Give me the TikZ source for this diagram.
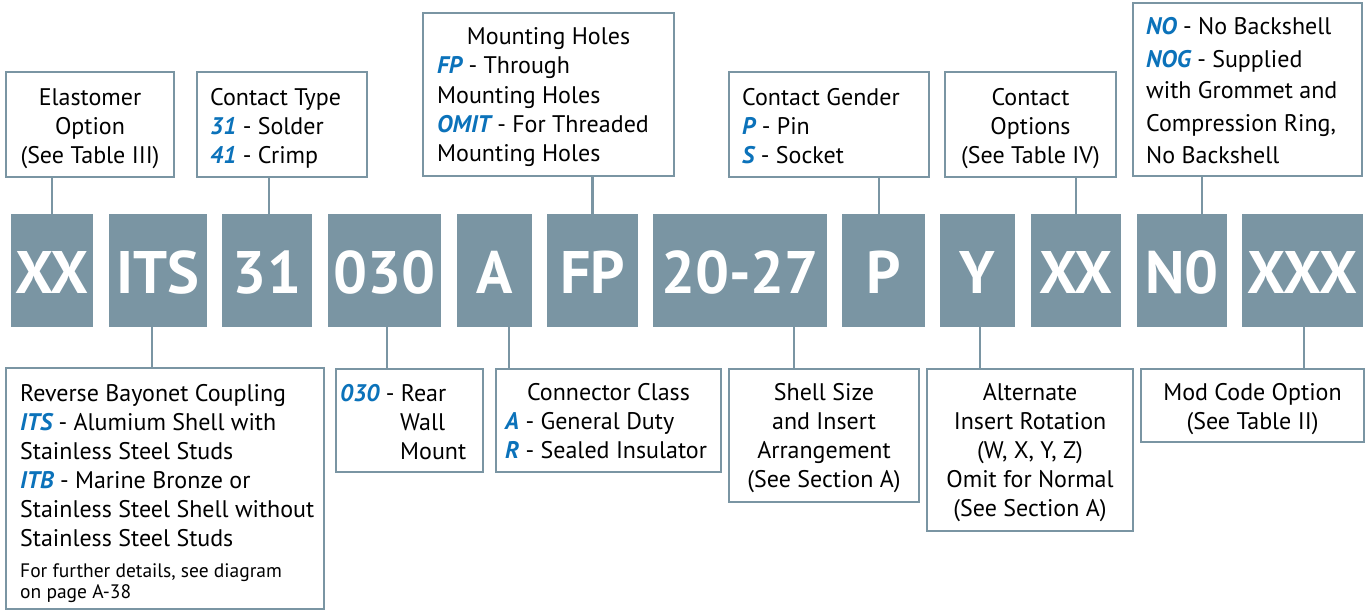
\documentclass[tikz,border=0pt]{standalone}
\usepackage{fontspec}
\setmainfont{PT Sans}
\definecolor{slate}{HTML}{7A95A3}
\definecolor{codeblue}{HTML}{0B72BA}
\newcommand\bl[1]{\textcolor{codeblue}{\bfseries\itshape #1}}
\newcommand\tlines[6]{\foreach \l [count=\i] in {#6}{\node[#2] (#1\i) at (#3,{#4+(\i-1)*#5}) {\l};}}
\begin{document}
\begin{tikzpicture}[x=1pt,y=-1pt,
 code/.style={fill=slate, draw=none, text=white, font=\fontsize{60}{60}\selectfont\bfseries, inner sep=0pt, text height=45pt, text depth=0pt, minimum height=113pt},
 lbox/.style={draw=slate, line width=2.7pt, inner sep=0pt, fill=white},
 txt/.style={inner sep=0pt, font=\fontsize{24}{29}\selectfont},
 small/.style={inner sep=0pt, font=\fontsize{19.5}{21}\selectfont},
 conn/.style={draw=slate, line width=2.7pt}]
\useasboundingbox (0,0) rectangle (1365,610);
% code boxes
\node[code, minimum width=82pt]  (c1)  at (52,270.5)    {XX};
\node[code, minimum width=98pt]  (c2)  at (158,270.5)   {ITS};
\node[code, minimum width=90pt]  (c3)  at (267,270.5)   {31};
\node[code, minimum width=113pt] (c4)  at (384.5,270.5) {030};
\node[code, minimum width=75pt]  (c5)  at (494.5,270.5) {A};
\node[code, minimum width=91pt]  (c6)  at (592.5,270.5) {FP};
\node[code, minimum width=174pt] (c7)  at (740,270.5)   {20-27};
\node[code, minimum width=83pt]  (c8)  at (883.5,270.5) {P};
\node[code, minimum width=75pt]  (c9)  at (977.5,270.5) {Y};
\node[code, minimum width=90pt]  (c10) at (1076,270.5)  {XX};
\node[code, minimum width=90pt]  (c11) at (1182,270.5)  {N0};
\node[code, minimum width=121pt] (c12) at (1302.5,270.5){XXX};
% top label boxes
\node[lbox, minimum width=168pt, minimum height=105pt] (b1) at (90,124.5) {};
\node[lbox, minimum width=170pt, minimum height=105pt] (b2) at (282,124.5) {};
\node[lbox, minimum width=251pt, minimum height=163pt] (b3) at (548.5,94.5) {};
\node[lbox, minimum width=200pt, minimum height=105pt] (b4) at (829,124.5) {};
\node[lbox, minimum width=171pt, minimum height=105pt] (b5) at (1030.5,124.5) {};
\node[lbox, minimum width=229pt, minimum height=173pt] (b6) at (1247.5,89.5) {};
% bottom label boxes
\node[lbox, minimum width=318pt, minimum height=241pt] (r1) at (165,488.5) {};
\node[lbox, minimum width=147pt, minimum height=103pt] (r2) at (409.5,420.5) {};
\node[lbox, minimum width=225pt, minimum height=103pt] (r3) at (608.5,420.5) {};
\node[lbox, minimum width=190pt, minimum height=133pt] (r4) at (824,435.5) {};
\node[lbox, minimum width=206pt, minimum height=162pt] (r5) at (1030,450) {};
\node[lbox, minimum width=223pt, minimum height=73pt]  (r6) at (1252.5,405.5) {};
% connectors
\draw[conn] (c1.north) -- (c1.north |- b1.south);
\draw[conn] ([xshift=2pt]c3.north) -- ([xshift=2pt]c3.north |- b2.south);
\draw[conn] (c6.north) -- (c6.north |- b3.south);
\draw[conn] ([xshift=-4.5pt]c8.north) -- ([xshift=-4.5pt]c8.north |- b4.south);
\draw[conn] (c10.north) -- (c10.north |- b5.south);
\draw[conn] ([xshift=20pt]c11.north) -- ([xshift=20pt]c11.north |- b6.south);
\draw[conn] ([xshift=-6pt]c2.south) -- ([xshift=-6pt]c2.south |- r1.north);
\draw[conn] ([xshift=2.5pt]c4.south) -- ([xshift=2.5pt]c4.south |- r2.north);
\draw[conn] ([xshift=14.5pt]c5.south) -- ([xshift=14.5pt]c5.south |- r3.north);
\draw[conn] ([xshift=54pt]c7.south) -- ([xshift=54pt]c7.south |- r4.north);
\draw[conn] ([xshift=2.5pt]c9.south) -- ([xshift=2.5pt]c9.south |- r5.north);
\draw[conn] ([xshift=1.5pt]c12.south) -- ([xshift=1.5pt]c12.south |- r6.north);
% texts, top
\tlines{tb1}{txt, anchor=base}{90}{105}{29}{{Elastomer},{Option},{(See Table III)}}
\tlines{tb2}{txt, anchor=base west}{210}{105}{29}{{Contact Type},{\bl{31} - Solder},{\bl{41} - Crimp}}
\tlines{tb3h}{txt, anchor=base}{548.5}{45}{29}{{Mounting Holes}}
\tlines{tb3}{txt, anchor=base west}{437}{74}{29}{{\bl{FP} - Through},{Mounting Holes},{\bl{OMIT} - For Threaded},{Mounting Holes}}
\tlines{tb4}{txt, anchor=base west}{742}{105}{29}{{Contact Gender},{\bl{P} - Pin},{\bl{S} - Socket}}
\tlines{tb5}{txt, anchor=base}{1030.5}{105}{29}{{Contact},{Options},{(See Table IV)}}
\tlines{tb6}{txt, anchor=base west}{1146}{35}{32}{{\bl{NO} - No Backshell},{\bl{NOG} - Supplied},{with Grommet and},{Compression Ring,},{No Backshell}}
% texts, bottom
\tlines{tr1}{txt, anchor=base west}{20}{401}{29}{{Reverse Bayonet Coupling},{\bl{ITS} - Alumium Shell with},{Stainless Steel Studs},{\bl{ITB} - Marine Bronze or},{Stainless Steel Shell without},{Stainless Steel Studs}}
\tlines{tr1s}{small, anchor=base west}{20}{577}{21}{{For further details, see diagram},{on page A-38}}
\tlines{tr2h}{txt, anchor=base west}{340}{401}{29}{{\bl{030} - Rear}}
\tlines{tr2}{txt, anchor=base west}{400}{430}{29}{{Wall},{Mount}}
\tlines{tr3h}{txt, anchor=base}{608.5}{400}{29}{{Connector Class}}
\tlines{tr3}{txt, anchor=base west}{505}{429}{29}{{\bl{A} - General Duty},{\bl{R} - Sealed Insulator}}
\tlines{tr4}{txt, anchor=base}{824}{400}{29}{{Shell Size},{and Insert},{Arrangement},{(See Section A)}}
\tlines{tr5}{txt, anchor=base}{1030}{400}{29}{{Alternate},{Insert Rotation},{(W, X, Y, Z)},{Omit for Normal},{(See Section A)}}
\tlines{tr6}{txt, anchor=base}{1252.5}{400}{29}{{Mod Code Option},{(See Table II)}}
\end{tikzpicture}
\end{document}
